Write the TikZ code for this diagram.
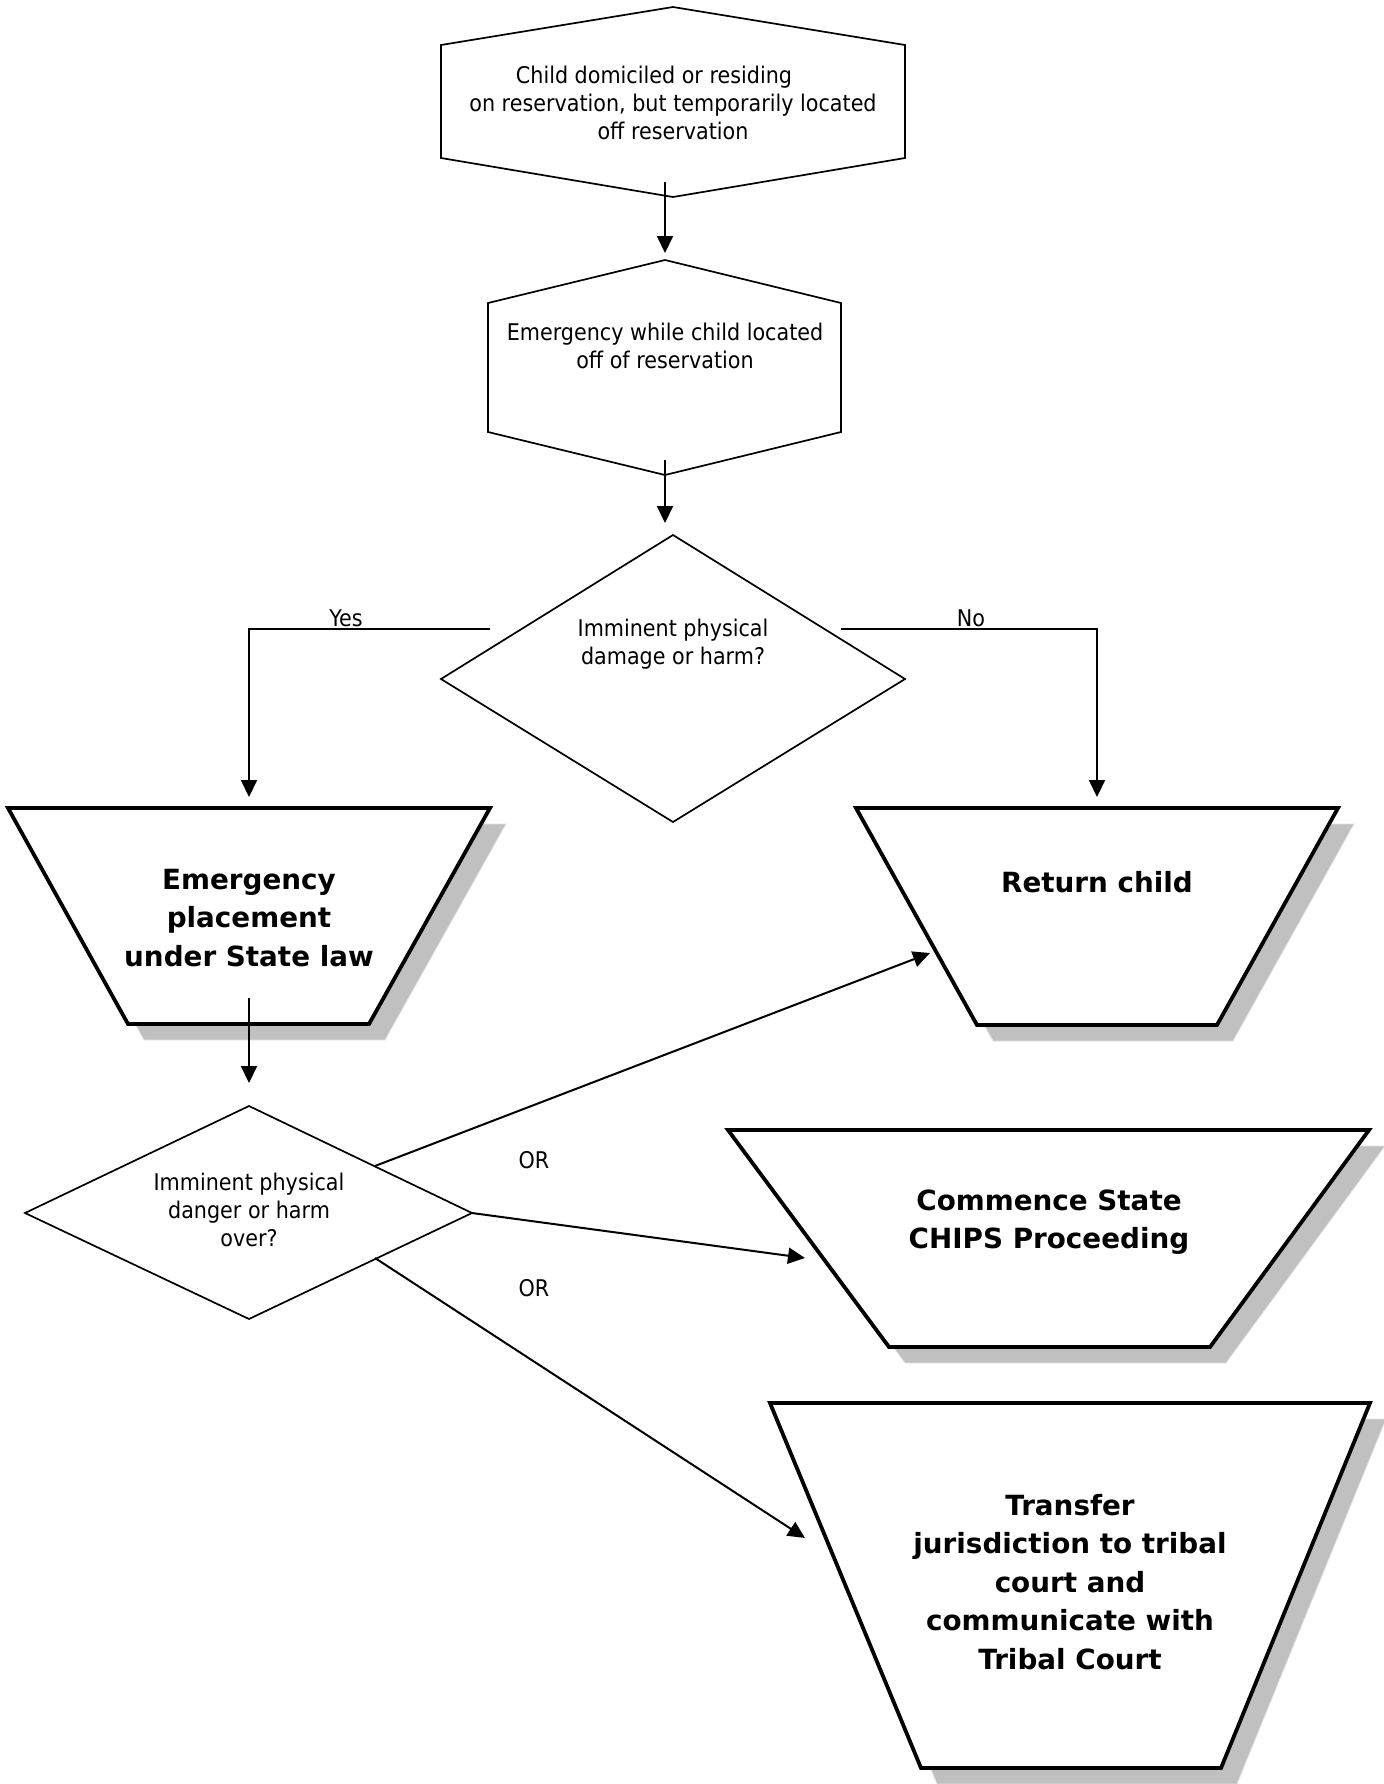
\documentclass[tikz,border=0pt]{standalone}
\usepackage{fontspec}
\setmainfont{DejaVu Sans}
\newfontfamily\bodyfont{DejaVu Sans}[FakeStretch=0.9]
\usetikzlibrary{arrows.meta}

\definecolor{shadowgray}{RGB}{192,192,192}
\definecolor{shadowedge}{RGB}{228,228,228}

\tikzset{
  outline/.style={draw=black, line width=0.85pt, line join=miter},
  heavy/.style={draw=black, line width=1.9pt, fill=white, line join=miter},
  shade/.style={fill=shadowgray, draw=shadowedge, line width=0.4pt},
  flow/.style={draw=black, line width=1pt, -{Triangle[length=8.5pt,width=8pt]}},
  smalltext/.style={font=\bodyfont\fontsize{11.5}{14.2}\selectfont, align=center, inner sep=0pt},
  bigtext/.style={font=\bfseries\fontsize{13.9}{19.25}\selectfont, align=center, inner sep=0pt},
  lbl/.style={font=\bodyfont\fontsize{11.5}{14.2}\selectfont, inner sep=0pt},
}

\begin{document}
\begin{tikzpicture}[x=0.5pt,y=-0.5pt]
\useasboundingbox (0,0) rectangle (1383,1784);

% ---- entry hexagons ----
\draw[outline] (673,7) -- (905,45) -- (905,158) -- (673,197) -- (441,158) -- (441,45) -- cycle;
\node[smalltext] (start) at (673,103)
  {Child domiciled or residing\hspace*{19pt}\\on reservation, but temporarily located\\off reservation};

\draw[outline] (665,260) -- (841,303) -- (841,432) -- (665,475) -- (488,432) -- (488,303) -- cycle;
\node[smalltext] (emerg) at (665,346) {Emergency while child located\\off of reservation};

% ---- first decision ----
\draw[outline] (673,535) -- (905,679) -- (673,822) -- (441,679) -- cycle;
\node[smalltext] (harm) at (673,644) {Imminent physical\\damage or harm?};

% ---- second decision ----
\draw[outline] (249,1106) -- (472,1213) -- (249,1319) -- (25,1213) -- cycle;
\node[smalltext] (over) at (249,1210) {Imminent physical\\danger or harm\\over?};

% ---- outcome trapezoids with drop shadows ----
\fill[shade, shift={(16,16)}] (8,808) -- (490,808) -- (369,1024) -- (128,1024) -- cycle;
\draw[heavy] (8,808) -- (490,808) -- (369,1024) -- (128,1024) -- cycle;
\node[bigtext] (place) at (249,918) {Emergency\\placement\\under State law};

\fill[shade, shift={(16,16)}] (856,808) -- (1338,808) -- (1217,1025) -- (977,1025) -- cycle;
\draw[heavy] (856,808) -- (1338,808) -- (1217,1025) -- (977,1025) -- cycle;
\node[bigtext] (return) at (1097,882) {Return child};

\fill[shade, shift={(16,16)}] (728,1130) -- (1369,1130) -- (1210,1347) -- (889,1347) -- cycle;
\draw[heavy] (728,1130) -- (1369,1130) -- (1210,1347) -- (889,1347) -- cycle;
\node[bigtext] (chips) at (1049,1222) {Commence State\\CHIPS Proceeding};

\fill[shade, shift={(16,16)}] (770,1403) -- (1370,1403) -- (1221,1768) -- (921,1768) -- cycle;
\draw[heavy] (770,1403) -- (1370,1403) -- (1221,1768) -- (921,1768) -- cycle;
\node[bigtext] (tribal) at (1070,1582)
  {Transfer\\jurisdiction to tribal\\court and\\communicate with\\Tribal Court};

% ---- connector end points ----
\coordinate (startOut) at (665,182);
\coordinate (emergIn)  at (665,253);
\coordinate (emergOut) at (665,460);
\coordinate (harmIn)   at (665,523);
\coordinate (yesOut)   at (490,629);
\coordinate (yesBend)  at (249,629);
\coordinate (placeIn)  at (249,797);
\coordinate (noOut)    at (841,629);
\coordinate (noBend)   at (1097,629);
\coordinate (returnIn) at (1097,797);
\coordinate (placeOut) at (249,998);
\coordinate (overIn)   at (249,1083);
\coordinate (overUp)   at (375,1166);
\coordinate (overMid)  at (472,1213);
\coordinate (overLow)  at (375,1258);
\coordinate (returnSide) at (930,953);
\coordinate (chipsSide)  at (805,1258);
\coordinate (tribalSide) at (805,1538);

% ---- connectors ----
\draw[flow] (startOut) -- (emergIn);
\draw[flow] (emergOut) -- (harmIn);
\draw[flow] (yesOut) -- (yesBend) -- (placeIn);
\draw[flow] (noOut) -- (noBend) -- (returnIn);
\draw[flow] (placeOut) -- (overIn);
\draw[flow] (overUp) -- (returnSide);
\draw[flow] (overMid) -- (chipsSide);
\draw[flow] (overLow) -- (tribalSide);

% ---- branch labels ----
\node[lbl] (yesLbl) at (346,618) {Yes};
\node[lbl] (noLbl)  at (971,618) {No};
\node[lbl] (or1)    at (534,1160) {OR};
\node[lbl] (or2)    at (534,1288) {OR};
\end{tikzpicture}
\end{document}
